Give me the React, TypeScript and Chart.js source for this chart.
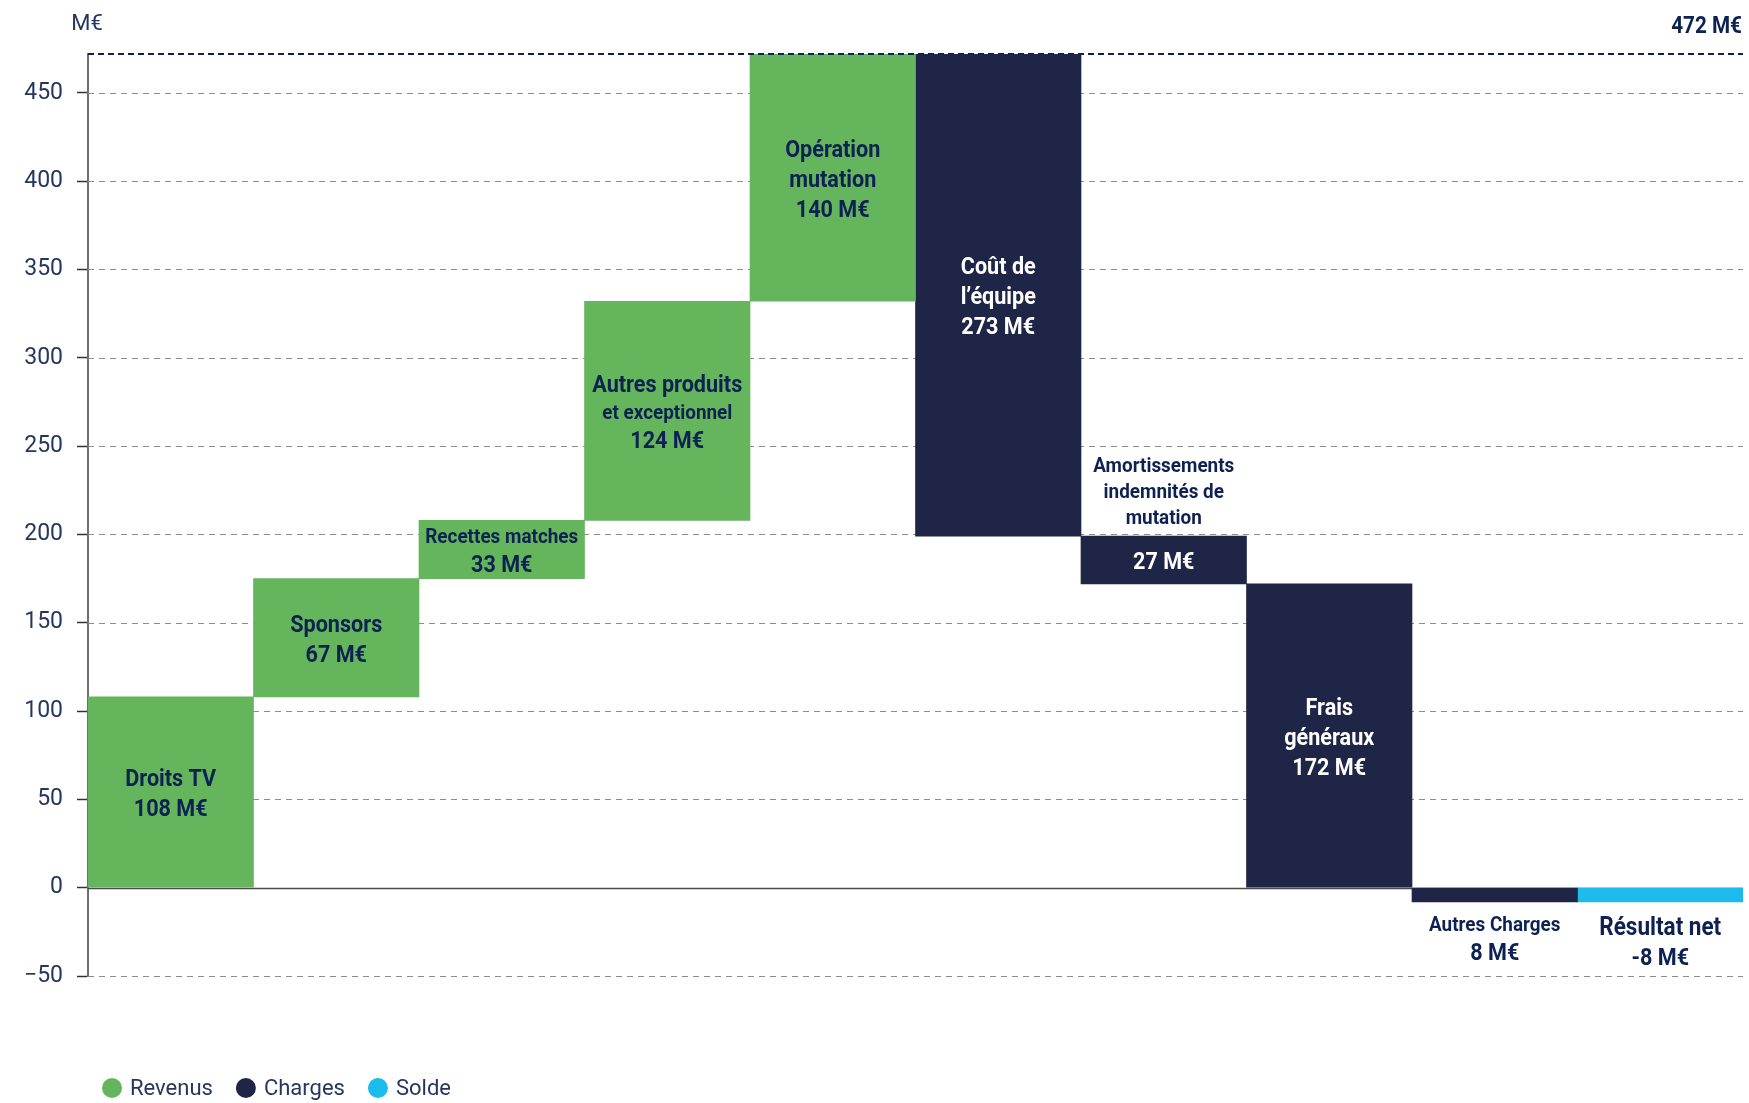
import React, { useEffect, useRef } from "react";
import { Chart, registerables } from "chart.js";

Chart.register(...registerables);

// ---------- data ----------
const categories = [
  "Droits TV",
  "Sponsors",
  "Recettes matches",
  "Autres produits et exceptionnel",
  "Opération mutation",
  "Coût de l’équipe",
  "Amortissements indemnités de mutation",
  "Frais généraux",
  "Autres Charges",
  "Résultat net",
];
const amounts = [108, 67, 33, 124, 140, 273, 27, 172, 8, -8];
const kinds = ["rev", "rev", "rev", "rev", "rev", "chg", "chg", "chg", "chg", "solde"];
const nameLines = [
  ["Droits TV"],
  ["Sponsors"],
  ["Recettes matches"],
  ["Autres produits", "et exceptionnel"],
  ["Opération", "mutation"],
  ["Coût de", "l’équipe"],
  ["Amortissements", "indemnités de", "mutation"],
  ["Frais", "généraux"],
  ["Autres Charges"],
  ["Résultat net"],
];
const nameSizes = [[24], [24], [21], [24, 21], [24, 24], [24, 24], [21, 21, 21], [24, 24], [21], [25]];
const namePlacement = ["in", "in", "in", "in", "in", "in", "above", "in", "below", "below"];
const valuePlacement = ["in", "in", "in", "in", "in", "in", "in", "in", "below", "below"];
const seriesKeys = ["rev", "chg", "solde"];
const seriesNames = ["Revenus", "Charges", "Solde"];
const seriesColors = ["#65b55d", "#1f2546", "#1cbbeb"];
const yMin = -50;
const yStep = 50;
const unit = "M€";

// ---------- styles ----------
const NAVY = "#0d2252";
const TICK_NAVY = "#25375e";
const BOLD_FAMILY = 'Roboto, "Liberation Sans", sans-serif';
const REGULAR = 'Roboto, "Liberation Sans", sans-serif';
const CONDENSE = 0.9;

// ---------- derived ----------
let running = 0;
const ranges = amounts.map((v, i) => {
  if (kinds[i] === "rev") {
    const r = [running, running + v];
    running += v;
    return r;
  }
  if (kinds[i] === "chg") {
    const r = [running - v, running];
    running -= v;
    return r;
  }
  return [0, v];
});
const totalRevenue = amounts.reduce((s, v, i) => (kinds[i] === "rev" ? s + v : s), 0);

function condensedText(ctx: any, text: string, x: number, y: number) {
  ctx.save();
  ctx.translate(x, y);
  ctx.scale(CONDENSE, 1);
  ctx.fillText(text, 0, 0);
  ctx.restore();
}

const gridPlugin = {
  id: "customGrid",
  beforeDatasetsDraw(chart: any) {
    const { ctx, chartArea, scales } = chart;
    const y = scales.y;
    ctx.save();
    y.ticks.forEach((t: any) => {
      const py = Math.round(y.getPixelForValue(t.value)) + 0.5;
      ctx.beginPath();
      if (t.value === 0) {
        ctx.setLineDash([]);
        ctx.strokeStyle = "#4a4a4a";
        ctx.lineWidth = 1.5;
      } else {
        ctx.setLineDash([6, 5]);
        ctx.strokeStyle = "#8c8c8c";
        ctx.lineWidth = 1.2;
      }
      ctx.moveTo(chartArea.left, py);
      ctx.lineTo(chartArea.right, py);
      ctx.stroke();
    });
    ctx.restore();
  },
  afterDatasetsDraw(chart: any) {
    const { ctx, chartArea, scales } = chart;
    const y = scales.y;
    const py = y.getPixelForValue(totalRevenue);
    ctx.save();
    ctx.beginPath();
    ctx.setLineDash([6, 4]);
    ctx.strokeStyle = NAVY;
    ctx.lineWidth = 2;
    ctx.moveTo(chartArea.left, py);
    ctx.lineTo(chartArea.right, py);
    ctx.stroke();
    ctx.setLineDash([]);
    ctx.fillStyle = NAVY;
    ctx.font = `bold 23px ${BOLD_FAMILY}`;
    ctx.textAlign = "right";
    ctx.textBaseline = "middle";
    condensedText(ctx, `${totalRevenue} ${unit}`, chartArea.right - 1, py - 27);
    ctx.font = `22px ${REGULAR}`;
    ctx.fillStyle = TICK_NAVY;
    ctx.textAlign = "center";
    ctx.fillText(unit, chartArea.left - 1, py - 30);
    ctx.restore();
  },
};

type Line = { text: string; size: number; color: string };

function drawBlock(ctx: any, lines: Line[], cx: number, top: number) {
  let yy = top;
  lines.forEach((l) => {
    const lh = l.size * 1.25;
    ctx.font = `bold ${l.size}px ${BOLD_FAMILY}`;
    ctx.fillStyle = l.color;
    condensedText(ctx, l.text, cx, yy + lh / 2 + 3);
    yy += lh;
  });
}
const blockHeight = (lines: Line[]) => lines.reduce((s, l) => s + l.size * 1.25, 0);

const labelPlugin = {
  id: "barLabels",
  afterDatasetsDraw(chart: any) {
    const { ctx } = chart;
    ctx.save();
    ctx.textAlign = "center";
    ctx.textBaseline = "middle";
    categories.forEach((_, i) => {
      const d = seriesKeys.indexOf(kinds[i]);
      const el = chart.getDatasetMeta(d).data[i];
      if (!el) return;
      const p = el.getProps(["x", "y", "base"], true);
      const top = Math.min(p.y, p.base);
      const bottom = Math.max(p.y, p.base);
      const inColor = kinds[i] === "rev" ? NAVY : "#ffffff";
      const groups: Record<string, Line[]> = { in: [], above: [], below: [] };
      nameLines[i].forEach((t, j) => {
        const pl = namePlacement[i];
        groups[pl].push({ text: t, size: nameSizes[i][j], color: pl === "in" ? inColor : NAVY });
      });
      const vp = valuePlacement[i];
      groups[vp].push({ text: `${amounts[i]} ${unit}`, size: 24, color: vp === "in" ? inColor : NAVY });
      if (groups.in.length) {
        const h = blockHeight(groups.in);
        drawBlock(ctx, groups.in, p.x, (top + bottom) / 2 - h / 2);
      }
      if (groups.above.length) {
        const h = blockHeight(groups.above);
        drawBlock(ctx, groups.above, p.x, top - 7 - h);
      }
      if (groups.below.length) {
        drawBlock(ctx, groups.below, p.x, bottom + 8);
      }
    });
    ctx.restore();
  },
};

const legendPlugin = {
  id: "customLegend",
  afterDraw(chart: any) {
    const { ctx, chartArea } = chart;
    ctx.save();
    ctx.font = `22px ${REGULAR}`;
    ctx.textBaseline = "middle";
    ctx.textAlign = "left";
    let x = chartArea.left + 24;
    const y = chartArea.bottom + 112;
    chart.data.datasets.forEach((ds: any) => {
      ctx.beginPath();
      ctx.fillStyle = ds.backgroundColor;
      ctx.arc(x, y, 10, 0, Math.PI * 2);
      ctx.fill();
      ctx.fillStyle = TICK_NAVY;
      ctx.fillText(ds.label, x + 18, y + 1);
      x += 18 + ctx.measureText(ds.label).width + 33;
    });
    ctx.restore();
  },
};

export default function App() {
  const ref = useRef<HTMLCanvasElement>(null);
  useEffect(() => {
    if (!ref.current) return;
    const chart = new Chart(ref.current, {
      type: "bar",
      data: {
        labels: categories,
        datasets: seriesKeys.map((k, s) => ({
          label: seriesNames[s],
          data: ranges.map((r, i) => (kinds[i] === k ? r : null)) as any,
          backgroundColor: seriesColors[s],
          borderWidth: 0,
          grouped: false,
          barPercentage: 1,
          categoryPercentage: 1,
        })),
      },
      options: {
        responsive: false,
        animation: false,
        layout: { padding: { left: 0, top: 54, right: 6, bottom: 127 } },
        plugins: { legend: { display: false }, tooltip: { enabled: false } },
        scales: {
          x: { display: false, offset: true },
          y: {
            min: yMin,
            max: totalRevenue,
            afterFit: (scale: any) => {
              scale.width = 88;
            },
            ticks: {
              stepSize: yStep,
              includeBounds: false,
              padding: 14,
              color: TICK_NAVY,
              font: { family: REGULAR, size: 23 },
              callback: (v: any) => (Number(v) < 0 ? "\u2212" + Math.abs(Number(v)) : String(v)),
            },
            grid: {
              drawOnChartArea: false,
              drawTicks: true,
              tickLength: 11,
              tickColor: "#333333",
              tickWidth: 1.5,
            },
            border: { display: true, color: "#6f6f6f", width: 2 },
          },
        },
      },
      plugins: [gridPlugin, labelPlugin, legendPlugin],
    });
    return () => chart.destroy();
  }, []);
  return (
    <canvas
      ref={ref}
      width={1749}
      height={1103}
      style={{ position: "fixed", left: 0, top: 0, display: "block", background: "#ffffff" }}
    />
  );
}
